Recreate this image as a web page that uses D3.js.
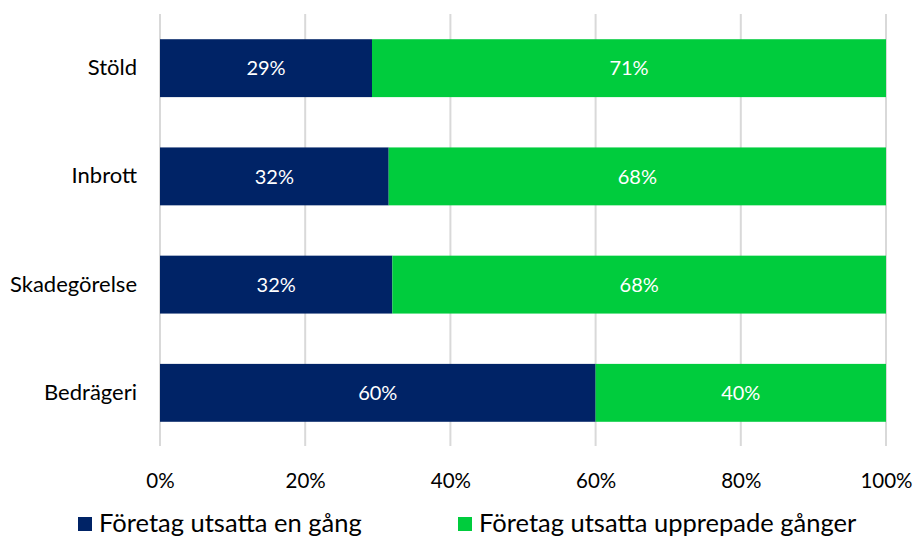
<!DOCTYPE html>
<html><head><meta charset="utf-8">
<script src="https://cdn.jsdelivr.net/npm/d3@7"></script>
<style>body{margin:0;background:#fff}svg{display:block}text{font-family:Lato,"Open Sans",sans-serif}</style>
</head><body>
<svg id="c" width="915" height="539"></svg>
<script>
const categories = ["Stöld","Inbrott","Skadegörelse","Bedrägeri"];
const seriesNames = ["Företag utsatta en gång","Företag utsatta upprepade gånger"];
const onceValues = [29.2,31.5,32.0,60.0];
const repeatedValues = [70.8,68.5,68.0,40.0];
const onceLabels = ["29%","32%","32%","60%"];
const repeatedLabels = ["71%","68%","68%","40%"];
const tickValues = [0,20,40,60,80,100];
const colors = ["#002366","#00cc3d"];

const svg = d3.select("#c");
const x = d3.scaleLinear().domain([0,100]).range([160,886]);
const y = d3.scaleBand().domain(categories).range([14,447]).paddingInner(0.465).paddingOuter(0.233);

// grid
svg.append("g").selectAll("line").data(tickValues).join("line")
  .attr("x1",d=>x(d)).attr("x2",d=>x(d)).attr("y1",14).attr("y2",446)
  .attr("stroke","#d9d9d9").attr("stroke-width",2);

const rows = categories.map((c,i)=>({c, segs:[
  {s:0,x0:0,x1:onceValues[i],lab:onceLabels[i]},
  {s:1,x0:onceValues[i],x1:onceValues[i]+repeatedValues[i],lab:repeatedLabels[i]}]}));

const g = svg.append("g");
rows.forEach(r=>{
  r.segs.forEach(sg=>{
    g.append("rect").attr("x",x(sg.x0)).attr("width",x(sg.x1)-x(sg.x0))
      .attr("y",y(r.c)).attr("height",y.bandwidth()).attr("fill",colors[sg.s]);
    g.append("text").attr("x",(x(sg.x0)+x(sg.x1))/2).attr("y",y(r.c)+y.bandwidth()/2)
      .attr("dy","0.36em").attr("text-anchor","middle").attr("fill","#fff")
      .attr("font-size",20).text(sg.lab);
  });
});

// y axis labels
const yAxis = d3.axisLeft(y).tickSize(0).tickPadding(23);
svg.append("g").attr("transform","translate(160,0)").call(yAxis)
  .call(a=>a.select(".domain").remove())
  .selectAll("text").attr("font-size",22).attr("fill","#000").attr("font-family","Lato,'Open Sans',sans-serif");

// x axis labels
const xAxis = d3.axisBottom(x).tickValues(tickValues).tickFormat(d=>d+"%").tickSize(0).tickPadding(15);
svg.append("g").attr("transform","translate(0,458)").call(xAxis)
  .call(a=>a.select(".domain").remove())
  .selectAll("text").attr("font-size",20.5).attr("fill","#000").attr("font-family","Lato,'Open Sans',sans-serif");

// legend
const legX = [78,458];
seriesNames.forEach((n,i)=>{
  svg.append("rect").attr("x",legX[i]).attr("y",517).attr("width",14).attr("height",14).attr("fill",colors[i]);
  svg.append("text").attr("x",legX[i]+21).attr("y",532).attr("font-size",25.5).attr("fill","#000").text(n);
});
</script>
</body></html>
